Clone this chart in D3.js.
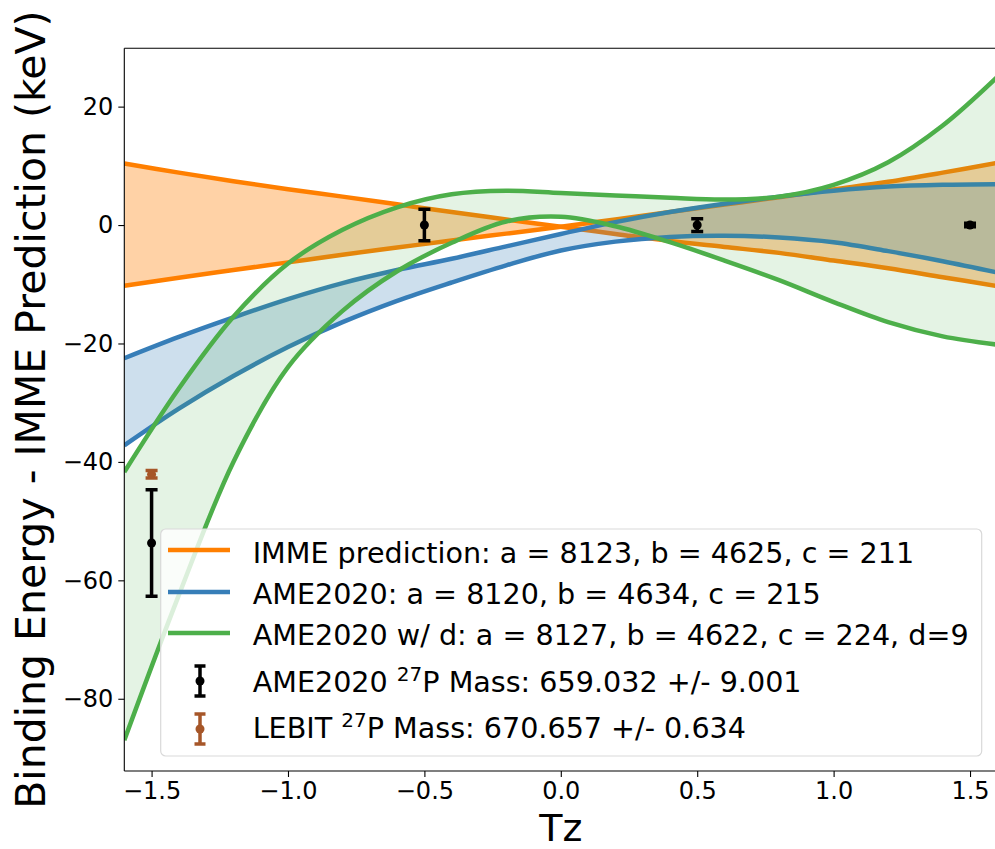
<!DOCTYPE html>
<html>
<head>
<meta charset="utf-8">
<script src="https://cdn.jsdelivr.net/npm/d3@7"></script>
<style>
  html, body { margin: 0; padding: 0; background: #fff; }
  svg { display: block; font-family: "DejaVu Sans", sans-serif; }
</style>
</head>
<body>
<svg id="chart" width="995" height="849"></svg>
<script>
// ---------------- data ----------------
const tzGrid = [-1.6, -1.4, -1.2, -1.0, -0.8, -0.6, -0.4, -0.2, 0, 0.2, 0.4, 0.6, 0.8, 1.0, 1.2, 1.4, 1.6];

// IMME prediction band (two bounding curves)
const immeDown = [10.4, 8.85, 7.4, 6.05, 4.8, 3.5, 2.2, 0.95, -0.3, -1.5, -2.7, -3.7, -4.7, -6.0, -7.3, -8.8, -10.3];
const immeUp   = [-10.25, -8.9, -7.6, -6.3, -5.0, -3.8, -2.6, -1.45, -0.3, 0.95, 2.2, 3.45, 4.7, 6.0, 7.3, 8.85, 10.5];

// AME2020 band
const ameUpper = [-22.5, -18.9, -15.6, -12.5, -9.8, -7.6, -5.7, -3.6, -1.5, 0.5, 2.2, 3.6, 4.8, 5.8, 6.5, 6.8, 6.9];
const ameLower = [-37.2, -31.0, -25.5, -20.6, -16.4, -12.8, -9.7, -6.8, -4.3, -2.8, -2.0, -1.8, -2.1, -2.9, -4.4, -6.1, -8.0];

// AME2020 w/ d band
const ameDA = [-41.7, -27.6, -15.5, -6.5, -0.8, 3.0, 5.2, 5.8, 5.4, 5.0, 4.6, 4.3, 4.8, 6.8, 10.6, 16.8, 25.0];
const ameDB = [-87.0, -62.5, -40.0, -24.0, -14.5, -7.8, -3.0, 0.6, 1.4, -0.2, -2.9, -6.0, -9.3, -13.0, -16.4, -18.8, -20.2];

// measured points
const ameTz  = [-1.5, -0.5, 0.5, 1.5];
const ameVal = [-53.7, 0.0, 0.0, 0.0];
const ameErr = [9.001, 2.65, 1.07, 0.3];
const lebitTz  = [-1.5];
const lebitVal = [-42.1];
const lebitErr = [0.634];

const xTicks = [-1.5, -1.0, -0.5, 0.0, 0.5, 1.0, 1.5];
const yTicks = [-80, -60, -40, -20, 0, 20];

const legendLabels = [
  "IMME prediction: a = 8123, b = 4625, c = 211",
  "AME2020: a = 8120, b = 4634, c = 215",
  "AME2020 w/ d: a = 8127, b = 4622, c = 224, d=9"
];

const colors = { orange: "#ff7f00", blue: "#377eb8", green: "#4daf4a", brown: "#a65628", black: "#000000" };

// ---------------- drawing ----------------
const svg = d3.select("#chart");
const pL = 124.3, pR = 997.3, pT = 48.3, pB = 771;
const x = d3.scaleLinear().domain([-1.6, 1.6]).range([pL, pR]);
const y = d3.scaleLinear().domain([-92.2, 29.85]).range([pB, pT]);

svg.append("defs").append("clipPath").attr("id", "plotclip")
  .append("rect").attr("x", pL).attr("y", pT).attr("width", pR - pL).attr("height", pB - pT);

const plot = svg.append("g").attr("clip-path", "url(#plotclip)");
const curve = d3.curveCatmullRom.alpha(0.5);

function band(upper, lower, color, opacity) {
  const data = tzGrid.map((t, i) => ({ t, u: upper[i], l: lower[i] }));
  plot.append("path").datum(data)
    .attr("d", d3.area().x(d => x(d.t)).y0(d => y(d.l)).y1(d => y(d.u)).curve(curve))
    .attr("fill", color).attr("fill-opacity", opacity).attr("stroke", "none");
  [upper, lower].forEach(arr => {
    plot.append("path").datum(tzGrid.map((t, i) => ({ t, v: arr[i] })))
      .attr("d", d3.line().x(d => x(d.t)).y(d => y(d.v)).curve(curve))
      .attr("fill", "none").attr("stroke", color).attr("stroke-width", 4.5);
  });
}
band(immeDown, immeUp, colors.orange, 0.35);
band(ameUpper, ameLower, colors.blue, 0.25);
band(ameDA, ameDB, colors.green, 0.15);

function errorbars(tz, val, err, color) {
  const g = plot.append("g");
  tz.forEach((t, i) => {
    const cx = x(t), y1 = y(val[i] + err[i]), y2 = y(val[i] - err[i]);
    g.append("line").attr("x1", cx).attr("x2", cx).attr("y1", y1).attr("y2", y2)
      .attr("stroke", color).attr("stroke-width", 3.5);
    [y1, y2].forEach(yy => g.append("line").attr("x1", cx - 6).attr("x2", cx + 6).attr("y1", yy).attr("y2", yy)
      .attr("stroke", color).attr("stroke-width", 3.5));
    g.append("circle").attr("cx", cx).attr("cy", y(val[i])).attr("r", 4.5).attr("fill", color);
  });
}
errorbars(ameTz, ameVal, ameErr, colors.black);
errorbars(lebitTz, lebitVal, lebitErr, colors.brown);

// axes
const fmtX = d3.format(".1f");
const xAxis = svg.append("g").attr("transform", `translate(0,${pB})`)
  .call(d3.axisBottom(x).tickValues(xTicks).tickFormat(fmtX).tickSize(6).tickPadding(5));
const yAxis = svg.append("g").attr("transform", `translate(${pL},0)`)
  .call(d3.axisLeft(y).tickValues(yTicks).tickFormat(d3.format("d")).tickSize(6).tickPadding(5));
[xAxis, yAxis].forEach(a => {
  a.select(".domain").remove();
  a.selectAll("line").attr("stroke", "#000").attr("stroke-width", 1.1);
  a.selectAll("text").attr("font-size", 24).attr("font-family", "DejaVu Sans").attr("fill", "#000");
});

// spines
const sp = svg.append("g").attr("stroke", "#000").attr("stroke-width", 1.1).attr("fill", "none");
sp.append("line").attr("x1", pL).attr("x2", pL).attr("y1", pT).attr("y2", pB);
sp.append("line").attr("x1", pL).attr("x2", pR).attr("y1", pB).attr("y2", pB);
sp.append("line").attr("x1", pL).attr("x2", pR).attr("y1", pT).attr("y2", pT);
sp.append("line").attr("x1", pR).attr("x2", pR).attr("y1", pT).attr("y2", pB);

// axis titles
svg.append("text").attr("x", (pL + pR) / 2).attr("y", 840.5).attr("text-anchor", "middle")
  .attr("font-size", 38).text("Tz");
svg.append("text").attr("transform", `translate(45,${(pT + pB) / 2}) rotate(-90)`)
  .attr("text-anchor", "middle").attr("font-size", 41).text("Binding Energy - IMME Prediction (keV)");

// legend
const lg = svg.append("g");
const lgFont = 28.6;
lg.append("rect").attr("x", 160.7).attr("y", 529).attr("width", 821).attr("height", 227).attr("rx", 5)
  .attr("fill", "#fff").attr("fill-opacity", 0.8).attr("stroke", "#d9d9d9").attr("stroke-width", 1.2);
const lineRows = [550, 592, 633];
const baseRows = [563, 604, 645, 692, 738];
[colors.orange, colors.blue, colors.green].forEach((c, i) => {
  lg.append("line").attr("x1", 168).attr("x2", 230).attr("y1", lineRows[i]).attr("y2", lineRows[i])
    .attr("stroke", c).attr("stroke-width", 4.5);
  lg.append("text").attr("x", 252.7).attr("y", baseRows[i]).attr("font-size", lgFont).text(legendLabels[i]);
});
function legendErr(cy, color) {
  lg.append("line").attr("x1", 200).attr("x2", 200).attr("y1", cy - 15).attr("y2", cy + 15)
    .attr("stroke", color).attr("stroke-width", 3.5);
  [cy - 15, cy + 15].forEach(yy => lg.append("line").attr("x1", 194.5).attr("x2", 205.5).attr("y1", yy).attr("y2", yy)
    .attr("stroke", color).attr("stroke-width", 3.5));
  lg.append("circle").attr("cx", 200).attr("cy", cy).attr("r", 4.5).attr("fill", color);
}
legendErr(681, colors.black);
legendErr(729, colors.brown);
function supText(yb, pre, post) {
  const t = lg.append("text").attr("x", 252.7).attr("y", yb).attr("font-size", lgFont);
  t.append("tspan").text(pre);
  t.append("tspan").attr("font-size", 20).attr("dy", -11).text("27");
  t.append("tspan").attr("dy", 11).text(post);
}
supText(692, "AME2020 ", "P Mass: 659.032 +/- 9.001");
supText(738, "LEBIT ", "P Mass: 670.657 +/- 0.634");
</script>
</body>
</html>
